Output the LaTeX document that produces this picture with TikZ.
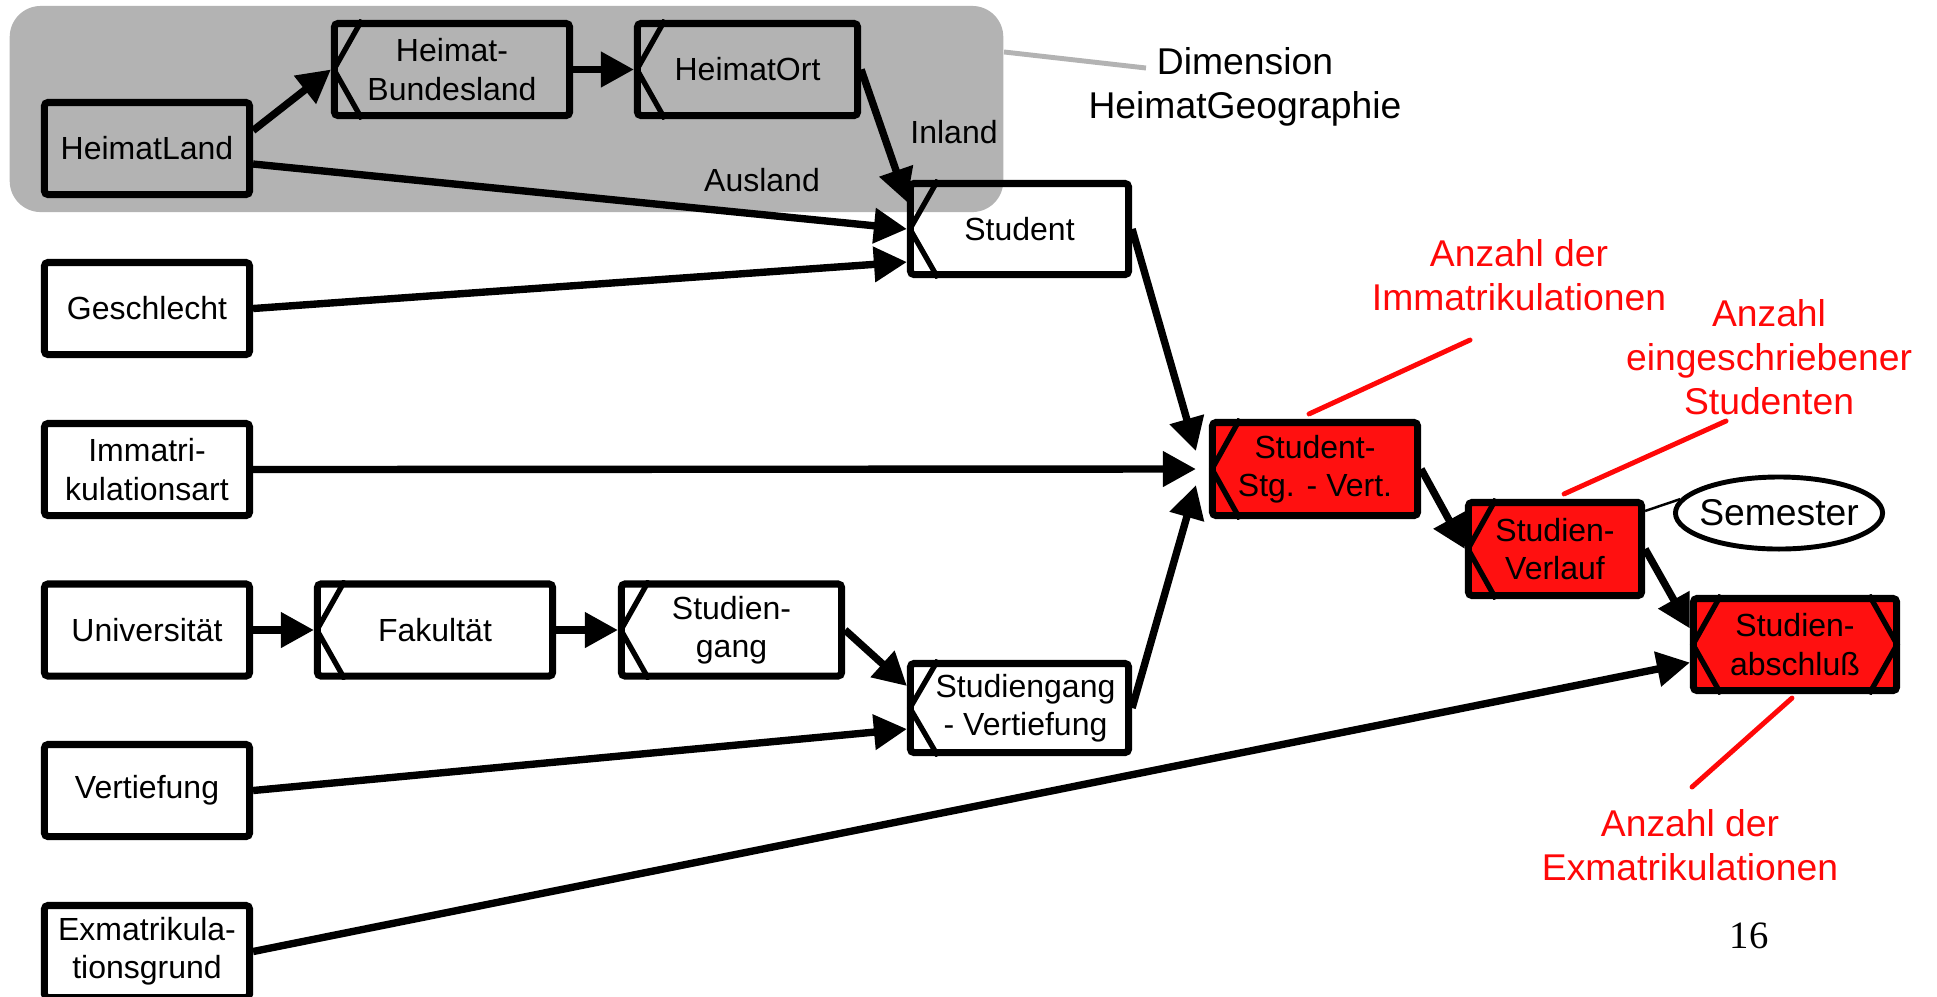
\documentclass[tikz,border=0pt]{standalone}
\usepackage{fontspec}
\setmainfont{Liberation Sans}
\newfontfamily\pagenumfont{Liberation Serif}
\usetikzlibrary{arrows.meta,shapes.geometric,calc}

\definecolor{dimgray}{RGB}{179,179,179}
\definecolor{factred}{RGB}{255,16,16}
\definecolor{notered}{RGB}{255,8,8}

\pgfdeclarelayer{back}
\pgfdeclarelayer{under}
\pgfsetlayers{back,under,main}

% chevron marks on the left (and right) side of a level box,
% clipped to the box outline
\newcommand\lvlchevronL[1]{%
  \path (#1.west) ++(3,0) coordinate (#1-lv)
        (#1.north -| #1.west) ++(31,0) coordinate (#1-lt)
        (#1.south -| #1.west) ++(31,0) coordinate (#1-lb);
  \begin{scope}
    \clip (#1.north west) rectangle (#1.south east);
    \draw[markline] (#1-lt) -- (#1-lv) -- (#1-lb);
  \end{scope}}
\newcommand\lvlchevronR[1]{%
  \path (#1.east) ++(-3,0) coordinate (#1-rv)
        (#1.north -| #1.east) ++(-31,0) coordinate (#1-rt)
        (#1.south -| #1.east) ++(-31,0) coordinate (#1-rb);
  \begin{scope}
    \clip (#1.north west) rectangle (#1.south east);
    \draw[markline] (#1-rt) -- (#1-rv) -- (#1-rb);
  \end{scope}}

\begin{document}
\begin{tikzpicture}[x=0.01cm,y=-0.01cm,
  ent/.style={draw, line width=2pt, rounded corners=1pt, inner sep=0pt,
    align=center, minimum height=0.92cm,
    font=\fontsize{9.1}{10.9}\selectfont},
  fact/.style={ent, fill=factred},
  markline/.style={line width=1.5pt, line join=miter},
  conn/.style={line width=2.1pt, -{Triangle[length=0.33cm,width=0.34cm]}},
  callout/.style={draw=notered, line width=1.4pt, line cap=round},
  note/.style={text=notered, align=center, font=\fontsize{10.6}{12.6}\selectfont},
  lbl/.style={font=\fontsize{9.1}{10.9}\selectfont},
]
\useasboundingbox (0,0) rectangle (1937,996);

% dimension region
\begin{pgfonlayer}{back}
  \node[fill=dimgray, rounded corners=0.31cm, minimum width=9.93cm,
        minimum height=2.06cm, inner sep=0pt] (dimreg) at (506.5,109) {};
\end{pgfonlayer}
\node[align=center, font=\fontsize{10.6}{12.6}\selectfont] (dim) at (1245,87)
  {Dimension\\HeimatGeographie};
\coordinate (dimend) at (1146,68);
\draw[dimgray, line width=1.4pt] ([yshift=0.57cm]dimreg.east) -- (dimend);

% entity levels
\node[ent, minimum width=2.05cm] (hl) at (147,148.5) {HeimatLand};
\node[ent, minimum width=2.35cm] (hb) at (452,69.5) {Heimat-\\Bundesland};
\node[ent, minimum width=2.20cm] (ho) at (747.5,69.5) {HeimatOrt};
\node[ent, minimum width=2.18cm, minimum height=0.91cm] (st) at (1019.5,229) {Student};
\node[ent, minimum width=2.05cm] (ge) at (147,308.5) {Geschlecht};
\node[ent, minimum width=2.05cm] (im) at (147,469.5) {Immatri-\\kulationsart};
\node[ent, minimum width=2.05cm] (un) at (147,630) {Universität};
\node[ent, minimum width=2.35cm] (fa) at (435,630) {Fakultät};
\node[ent, minimum width=2.20cm] (sg) at (731.5,630) {Studien-\\gang};
\node[ent, minimum width=2.18cm, minimum height=0.89cm] (sgv) at (1019.5,708) {\hspace*{0.12cm}Studiengang\\\hspace*{0.12cm}- Vertiefung};
\node[ent, minimum width=2.05cm] (ve) at (147,790.5) {Vertiefung};
\node[ent, minimum width=2.05cm] (ex) at (147,951.5) {Exmatrikula-\\tionsgrund};

% fact levels
\node[fact, minimum width=2.05cm, minimum height=0.93cm] (ssv) at (1315,469) {Student-\\Stg. - Vert.};
\node[fact, minimum width=1.73cm, minimum height=0.93cm] (sv) at (1555,549) {Studien-\\Verlauf};
\node[fact, minimum width=2.03cm, minimum height=0.92cm] (sa) at (1795,644.5) {Studien-\\abschluß};
\node[draw, ellipse, line width=1.4pt, minimum width=2.07cm, minimum height=0.72cm,
      inner sep=0pt, font=\fontsize{10.6}{12.6}\selectfont] (sem) at (1779,513)
  {\makebox[0pt]{Semester}};

\foreach \n in {hb,ho,st,fa,sg,sgv,ssv,sv,sa} {\lvlchevronL{\n}}
\lvlchevronR{sa}

% edge labels
\node[lbl] (inl) at (954,132) {Inland};
\node[lbl] (ausl) at (762,180) {Ausland};

% roll-up connectors
\draw[conn] ([yshift=0.18cm]hl.east) -- (hb.west);
\draw[conn] (hb.east) -- (ho.west);
\draw[conn] (ho.east) -- ([yshift=-0.22cm]st.north west);
\draw[conn] ([yshift=-0.155cm]hl.east) -- (st.west);
\draw[conn] (ge.east) -- ([yshift=-0.33cm]st.west);
\draw[conn] (im.east) -- ([xshift=-0.13cm]ssv.west);
\draw[conn] (st.east) -- ([xshift=-0.13cm,yshift=0.18cm]ssv.west);
\draw[conn] (sgv.east) -- ([xshift=-0.13cm,yshift=-0.16cm]ssv.west);
\draw[conn] (ssv.east) -- (sv.west);
\draw[conn] (sv.east) -- ([yshift=0.16cm]sa.west);
\draw[conn] (ex.east) -- ([yshift=-0.18cm]sa.west);
\draw[conn] (un.east) -- (fa.west);
\draw[conn] (fa.east) -- (sg.west);
\draw[conn] (sg.east) -- ([yshift=0.22cm]sgv.west);
\draw[conn] (ve.east) -- ([yshift=-0.21cm]sgv.west);

\draw[line width=0.7pt] ([yshift=-0.12cm]sv.north east) -- (sem.172);

% measures
\node[note] (ai) at (1519,275) {Anzahl der\\Immatrikulationen};
\node[note] (ae) at (1769,357) {Anzahl\\eingeschriebener\\Studenten};
\node[note] (ax) at (1690,845) {Anzahl der\\Exmatrikulationen};
\coordinate (aiend) at (1470,340);
\coordinate (aeend) at (1726,421);
\coordinate (axend) at (1692,787);
\begin{pgfonlayer}{under}
  \draw[callout] ([xshift=-0.06cm,yshift=0.05cm]ssv.north) -- (aiend);
  \draw[callout] ([xshift=0.09cm,yshift=0.05cm]sv.north) -- (aeend);
  \draw[callout] ([xshift=-0.03cm,yshift=-0.04cm]sa.south) -- (axend);
\end{pgfonlayer}

\node[font=\pagenumfont\fontsize{11}{13}\selectfont] (pg) at (1749,936) {16};
\end{tikzpicture}
\end{document}
